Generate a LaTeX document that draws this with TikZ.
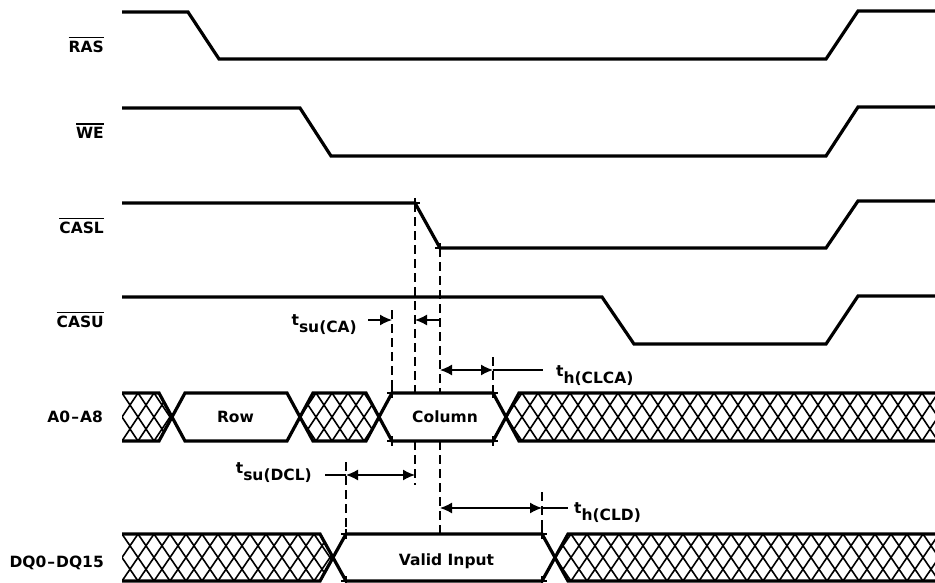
\documentclass[tikz,border=0pt]{standalone}
\usepackage{fontspec}
\setmainfont{DejaVu Sans}
\usetikzlibrary{arrows.meta}
\newcommand\ovl[1]{\sbox0{#1}\rlap{\raisebox{\dimexpr\ht0+2.5pt\relax}{\rule{\wd0}{1.4pt}}}\usebox0}
\newcommand\tsub[2]{#1\raisebox{-7pt}{#2}}
\newcommand\xhatch[4]{%
  \foreach \k in {0,...,#3}{%
    \pgfmathsetmacro\xx{#1+16*\k}%
    \draw[hatchl] (\xx,#2) -- ++(32,#4) (\xx,#2) -- ++(-32,#4);
  }}
\begin{document}
\begin{tikzpicture}[x=1pt,y=-1pt,
  sig/.style={line width=3.2pt},
  hatchl/.style={line width=1.6pt},
  dline/.style={line width=1.2pt, dash pattern=on 9pt off 5pt},
  arr/.style={line width=1.4pt, -{Latex[length=12pt,width=11pt]}},
  darr/.style={line width=1.4pt, {Latex[length=12pt,width=11pt]}-{Latex[length=12pt,width=11pt]}},
  plain/.style={line width=1.4pt},
  tk/.style={line width=1.4pt},
  lbl/.style={font=\fontsize{15.5}{18}\selectfont\bfseries, inner sep=0pt}]
\useasboundingbox (0,0) rectangle (935,583);

% signal labels
\node[lbl, anchor=base east] (lRAS)  at (104,52.5) {\ovl{RAS}};
\node[lbl, anchor=base east] (lWE)   at (104,138.3) {\ovl{WE}};
\node[lbl, anchor=base east] (lCASL) at (104,233.3) {\ovl{CASL}};
\node[lbl, anchor=base east] (lCASU) at (104,327.5) {\ovl{CASU}};
\node[lbl, anchor=base east] (lA)    at (103,422) {A0\kern1pt–\kern1ptA8};
\node[lbl, anchor=base east] (lDQ)   at (104,567) {DQ0\kern1pt–\kern1ptDQ15};

% control signals
\draw[sig] (122,12) -- (188,12) -- (219,59) -- (826,59) -- (858,11) -- (935,11);
\draw[sig] (122,108) -- (300,108) -- (331,156) -- (826,156) -- (858,107) -- (935,107);
\coordinate (cF1) at (415,203);
\coordinate (cF2) at (440,248);
\draw[sig] (122,203) -- (cF1) -- (cF2) -- (826,248) -- (858,201) -- (935,201);
\draw[sig] (122,297) -- (602,297) -- (634,344) -- (826,344) -- (858,296) -- (935,296);

% A0-A8 hatching
\begin{scope}
\clip (122,393) -- (159,393) -- (172,417) -- (159,441) -- (122,441) -- cycle;
\xhatch{90}{393}{8}{48}
\end{scope}
\begin{scope}
\clip (300,417) -- (313,393) -- (366,393) -- (379,417) -- (366,441) -- (313,441) -- cycle;
\xhatch{268}{393}{10}{48}
\end{scope}
\begin{scope}
\clip (506,417) -- (519,393) -- (940,393) -- (940,441) -- (519,441) -- cycle;
\xhatch{474}{393}{32}{48}
\end{scope}
% DQ hatching
\begin{scope}
\clip (122,534) -- (320,534) -- (333,557.5) -- (320,581) -- (122,581) -- cycle;
\xhatch{90}{534}{18}{47}
\end{scope}
\begin{scope}
\clip (555,557.5) -- (568,534) -- (940,534) -- (940,581) -- (568,581) -- cycle;
\xhatch{523}{534}{30}{47}
\end{scope}

% bus outlines
\coordinate (cTL) at (392,393); \coordinate (cTR) at (493,393);
\coordinate (cBL) at (392,441); \coordinate (cBR) at (493,441);
\coordinate (vTL) at (346,534); \coordinate (vTR) at (542,534);
\coordinate (vBL) at (346,581); \coordinate (vBR) at (542,581);
\draw[sig] (122,393) -- (159,393) -- (185,441) -- (287,441) -- (313,393) -- (366,393) -- (cBL) -- (cBR) -- (519,393) -- (935,393);
\draw[sig] (122,441) -- (159,441) -- (185,393) -- (287,393) -- (313,441) -- (366,441) -- (cTL) -- (cTR) -- (519,441) -- (935,441);
\draw[sig] (122,534) -- (320,534) -- (vBL) -- (vBR) -- (568,534) -- (935,534);
\draw[sig] (122,581) -- (320,581) -- (vTL) -- (vTR) -- (568,581) -- (935,581);

\node[lbl, anchor=base] (tRow) at (235.5,422) {Row};
\node[lbl, anchor=base] (tCol) at (445,422) {Column};
\node[lbl, anchor=base] (tVal) at (446.5,565) {Valid Input};

% tick marks
\foreach \c in {cF1,cF2,cTL,cTR,cBL,cBR,vTL,vTR,vBL,vBR}
  \draw[tk] (\c) +(-5,0) -- +(5,0) (\c) +(0,-5) -- +(0,5);

% dashed reference lines
\coordinate (d392) at (392,310);
\coordinate (d415a) at (415,393); \coordinate (d415b) at (415,441); \coordinate (d415c) at (415,485);
\coordinate (d440a) at (440,393); \coordinate (d440b) at (440,441); \coordinate (d440c) at (440,534);
\coordinate (d493) at (493,357);
\coordinate (d346) at (346,462);
\coordinate (d542) at (542,492);
\draw[dline] (d392) -- (cTL);
\draw[dline] (cF1) -- (d415a);
\draw[dline] (d415b) -- (d415c);
\draw[dline] (cF2) -- (d440a);
\draw[dline] (d440b) -- (d440c);
\draw[dline] (d493) -- (cTR);
\draw[dline] (d346) -- (vTL);
\draw[dline] (d542) -- (vTR);

% timing arrows
\coordinate (a1s) at (368,320); \coordinate (a1e) at (392,320);
\coordinate (a2s) at (440,320); \coordinate (a2e) at (415,320);
\draw[arr] (a1s) -- (a1e);
\draw[arr] (a2s) -- (a2e);
\node[lbl, anchor=base east] (tsuCA) at (357,325) {\tsub{t}{su(CA)}};

\coordinate (b1) at (440,370); \coordinate (b2) at (493,370); \coordinate (b3) at (543,370);
\draw[darr] (b1) -- (b2);
\draw[plain] (b2) -- (b3);
\node[lbl, anchor=base west] (thCLCA) at (556,376) {\tsub{t}{h(CLCA)}};

\coordinate (c0) at (325,475); \coordinate (c1) at (346,475); \coordinate (c2) at (415,475);
\draw[plain] (c0) -- (c1);
\draw[darr] (c1) -- (c2);
\node[lbl, anchor=base east] (tsuDCL) at (312,473) {\tsub{t}{su(DCL)}};

\coordinate (e1) at (440,508); \coordinate (e2) at (542,508); \coordinate (e3) at (568,508);
\draw[darr] (e1) -- (e2);
\draw[plain] (e2) -- (e3);
\node[lbl, anchor=base west] (thCLD) at (574,513) {\tsub{t}{h(CLD)}};
\end{tikzpicture}
\end{document}
